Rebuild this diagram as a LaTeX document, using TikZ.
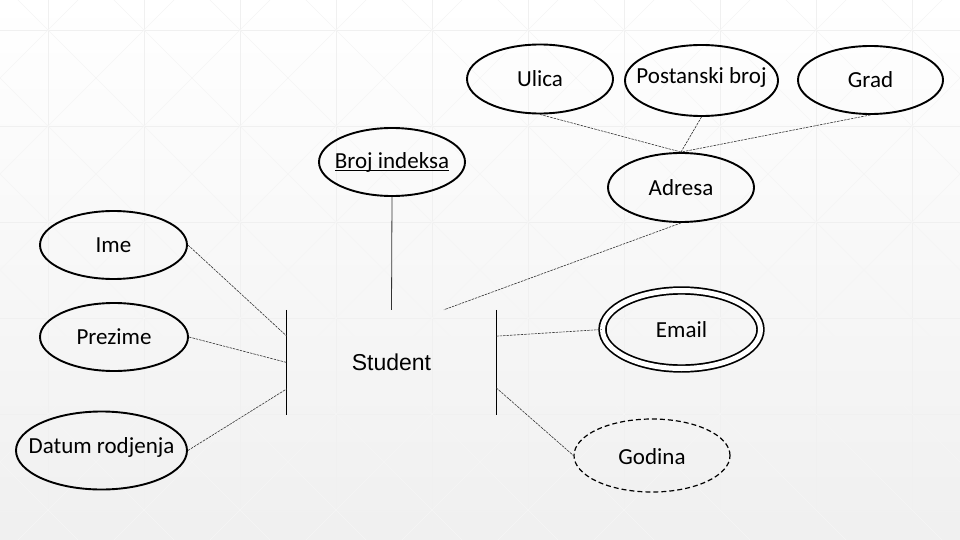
\documentclass[tikz,border=0pt]{standalone}
\usepackage{fontspec}
\setmainfont{Carlito}
\newfontfamily\arialfont{Liberation Sans}
\usetikzlibrary{shapes.geometric,calc}
\begin{document}
\begin{tikzpicture}[x=1pt,y=-1pt,
  attr/.style={ellipse,draw,line width=1.9pt,inner sep=0pt},
  lbl/.style={font=\fontsize{23}{26}\selectfont},
  conn/.style={line width=0.6pt,black!80,dash pattern=on 2.5pt off 1pt},
  edge/.style={line width=1.2pt,black},
  gridline/.style={black!6,line width=0.6pt},
  diagline/.style={black!4,line width=0.6pt}]
\useasboundingbox (0,0) rectangle (960,540);
% background
\shade[top color=white,middle color=white,bottom color=black!6] (0,0) rectangle (960,540);
\begin{scope}
\clip (0,0) rectangle (960,540);
\foreach \k in {0,...,9} \draw[gridline] (48+96*\k,0) -- (48+96*\k,540);
\foreach \k in {0,...,5} \draw[gridline] (0,30+96*\k) -- (960,30+96*\k);
\foreach \k in {-7,...,11} {
  \draw[diagline] (18+96*\k-100,-100) -- (18+96*\k+700,700);
  \draw[diagline] (78+96*\k+100,-100) -- (78+96*\k-700,700);
}
\end{scope}
% attributes
\node[attr,minimum width=146pt,minimum height=69pt,label={[lbl]center:Ulica}] (ulica) at (540,79) {};
\node[attr,minimum width=153pt,minimum height=71pt,label={[lbl,yshift=3pt]center:Postanski broj}] (postanski) at (701.5,80.5) {};
\node[attr,minimum width=145pt,minimum height=68pt,label={[lbl]center:Grad}] (grad) at (870.5,80) {};
\node[attr,minimum width=146pt,minimum height=69pt,label={[lbl]center:Adresa}] (adresa) at (681,187.5) {};
\node[attr,minimum width=146pt,minimum height=68pt,label={[lbl]center:\underbar{Broj indeksa}}] (broj) at (392,162) {};
\node[attr,minimum width=147pt,minimum height=68pt,label={[lbl]center:Ime}] (ime) at (113.5,245) {};
\node[attr,minimum width=148pt,minimum height=68pt,label={[lbl]center:Prezime}] (prezime) at (114,337) {};
\node[attr,minimum width=171pt,minimum height=78pt,label={[lbl,yshift=3pt]center:Datum rodjenja}] (datum) at (101.5,450.5) {};
\node[attr,double,line width=1.7pt,double distance=5pt,minimum width=158pt,minimum height=78pt,label={[lbl]center:Email}] (email) at (681.5,329.5) {};
\node[attr,line width=1.2pt,dash pattern=on 5pt off 3pt,minimum width=156pt,minimum height=73pt,label={[lbl,yshift=-1pt]center:Godina}] (godina) at (652,455.5) {};
% entity
\node[font=\arialfont\fontsize{23}{26}\selectfont,minimum width=209pt,minimum height=105pt,inner sep=0pt] (student) at (391.5,362.5) {Student};
\draw[edge] (student.north west) -- (student.south west);
\draw[edge] (student.north east) -- (student.south east);
% connectors
\draw[conn] (ulica.south) -- (adresa.north);
\draw[conn] (postanski.south) -- (adresa.north);
\draw[conn] (grad.south) -- (adresa.north);
\draw[conn] (adresa.south) -- ($(student.north west)!0.75!(student.north east)$);
\draw[line width=0.8pt,black!80] (broj.south) -- (student.north);
\draw[conn] (ime.east) -- ($(student.north west)!0.25!(student.south west)$);
\draw[conn] (prezime.east) -- ($(student.north west)!0.5!(student.south west)$);
\draw[conn] (datum.east) -- ($(student.north west)!0.75!(student.south west)$);
\draw[conn] ($(student.north east)!0.25!(student.south east)$) -- (email.west);
\draw[conn] ($(student.north east)!0.74!(student.south east)$) -- (godina.west);
\end{tikzpicture}
\end{document}
